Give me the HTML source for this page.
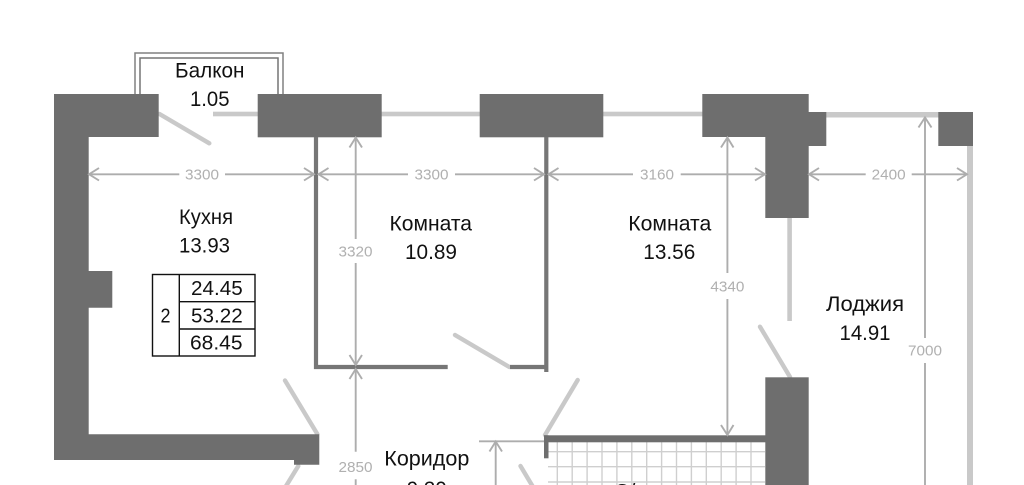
<!DOCTYPE html>
<html lang="ru">
<head>
<meta charset="utf-8">
<title>План квартиры</title>
<style>
html,body{margin:0;padding:0;background:#fff;width:1024px;height:485px;overflow:hidden}
svg{display:block;filter:blur(.25px)}
text{font-family:"Liberation Sans","DejaVu Sans",sans-serif}
.l{font-size:21px;fill:#111;text-anchor:start}
.t{font-size:20px;fill:#111}
.d{font-size:15px;fill:#b0b0b0}
.w{fill:#6e6e6e}
.lt{fill:#c9c9c9}
.door{stroke:#c9c9c9;stroke-width:4.4;fill:none;stroke-linecap:round}
.dim{stroke:#adadad;stroke-width:1.9;fill:none}
.g{stroke:#cfcfcf;stroke-width:1.4;fill:none}
</style>
</head>
<body>
<svg width="1024" height="485" viewBox="0 0 1024 485" xmlns="http://www.w3.org/2000/svg">
<rect width="1024" height="485" fill="#fff"/>

<!-- balcony -->
<path d="M135 94V53H283V94" fill="none" stroke="#808080" stroke-width="1.5"/>
<path d="M140 94V58H278V94" fill="none" stroke="#757575" stroke-width="1.5"/>

<!-- grid -->
<g class="g">
<path d="M557.3 442V485M572.2 442V485M587.1 442V485M602 442V485M616.9 442V485M631.8 442V485M646.7 442V485M661.6 442V485M676.5 442V485M691.4 442V485M706.3 442V485M721.2 442V485M736.1 442V485M751 442V485"/>
<path d="M548 451.7H765M548 466.7H765M548 482H765"/>
</g>

<!-- light windows / partitions -->
<rect class="lt" x="213" y="111.7" width="45" height="4.6"/>
<rect class="lt" x="381" y="111.7" width="99" height="4.6"/>
<rect class="lt" x="603" y="111.7" width="100" height="4.6"/>
<rect class="lt" x="826" y="112" width="113" height="5.5"/>
<rect class="lt" x="967" y="146" width="6" height="339"/>
<rect class="lt" x="787.3" y="218" width="4.6" height="103"/>

<!-- doors -->
<path class="door" d="M159.5 114L209.3 143.3"/>
<path class="door" d="M285 380.5L317.3 434"/>
<path class="door" d="M298.3 466L283 491"/>
<path class="door" d="M455 335L509.3 367"/>
<path class="door" d="M577.7 380L545 435"/>
<path class="door" d="M520.5 466L536 492"/>
<path class="door" d="M760 326.7L790 377"/>

<!-- walls -->
<path class="w" d="M54 94H158.7V137H88.7V271H112.3V307.7H88.7V434.3H319.3V464.7H294V460H54Z"/>
<rect class="w" x="257.7" y="94" width="124" height="43.3"/>
<rect class="w" x="479.7" y="94" width="123.6" height="43.3"/>
<path class="w" d="M702.3 94H808.7V112H826.3V146H808.7V218H765.3V137H702.3Z"/>
<rect class="w" x="938.3" y="112" width="34.7" height="34"/>
<rect class="w" x="765.3" y="377.3" width="43.4" height="108"/>
<rect class="w" x="544" y="435.3" width="222" height="7"/>
<rect class="w" x="544" y="435.3" width="4.5" height="23"/>
<path d="M316 137V367H447.7" fill="none" stroke="#767676" stroke-width="4.2"/>
<path d="M546.3 137V372M510 367H546.3" fill="none" stroke="#767676" stroke-width="4.2"/>

<!-- dimensions -->
<g class="dim">
<path d="M88.7 174.3H179.3M225 174.3H314"/>
<path d="M99 168L89 174.3L99 180.5M304 168L314 174.3L304 180.5"/>
<path d="M318.3 174.3H408M455 174.3H544"/>
<path d="M328.5 168L318.5 174.3L328.5 180.5M534 168L544 174.3L534 180.5"/>
<path d="M548.5 174.3H633M680.7 174.3H765"/>
<path d="M558.5 168L548.5 174.3L558.5 180.5M755 168L765 174.3L755 180.5"/>
<path d="M808.7 174.3H865.7M911.7 174.3H967"/>
<path d="M819 168L809 174.3L819 180.5M957 168L967 174.3L957 180.5"/>

<path d="M355.7 137V239M355.7 263V365"/>
<path d="M349.5 147.5L355.7 137.5L362 147.5M349.5 355L355.7 365L362 355"/>
<path d="M355.7 369V451.7M355.7 479.3V485"/>
<path d="M349.5 379L355.7 369L362 379"/>

<path d="M727.4 137V273M727.4 299V435"/>
<path d="M721 147.5L727.4 137.5L733.5 147.5M721 425L727.4 435L733.5 425"/>

<path d="M925 117V338M925 363V485"/>
<path d="M918.5 127.5L925 117.5L931.5 127.5"/>

<path d="M479 441.3H544"/>
<path d="M495.7 441.3V485"/>
<path d="M489.5 451.5L495.7 441.5L502 451.5"/>
</g>
<text class="d" x="185" y="179.3" textLength="34" lengthAdjust="spacingAndGlyphs">3300</text>
<text class="d" x="414.5" y="179.3" textLength="34" lengthAdjust="spacingAndGlyphs">3300</text>
<text class="d" x="640" y="179.3" textLength="34" lengthAdjust="spacingAndGlyphs">3160</text>
<text class="d" x="871.7" y="179.3" textLength="34" lengthAdjust="spacingAndGlyphs">2400</text>
<text class="d" x="338.5" y="256.3" textLength="34" lengthAdjust="spacingAndGlyphs">3320</text>
<text class="d" x="338.5" y="471.8" textLength="34" lengthAdjust="spacingAndGlyphs">2850</text>
<text class="d" x="710.4" y="291.3" textLength="34" lengthAdjust="spacingAndGlyphs">4340</text>
<text class="d" x="908" y="355.3" textLength="34" lengthAdjust="spacingAndGlyphs">7000</text>

<!-- room labels -->
<text class="l" x="175" y="77.3" textLength="69.5" lengthAdjust="spacingAndGlyphs">Балкон</text>
<text class="l" x="190" y="106" textLength="39.5" lengthAdjust="spacingAndGlyphs">1.05</text>
<text class="l" x="179" y="224" textLength="54" lengthAdjust="spacingAndGlyphs">Кухня</text>
<text class="l" x="179" y="252.7" textLength="51" lengthAdjust="spacingAndGlyphs">13.93</text>
<text class="l" x="389.5" y="230.7" textLength="82.5" lengthAdjust="spacingAndGlyphs">Комната</text>
<text class="l" x="405" y="259" textLength="52" lengthAdjust="spacingAndGlyphs">10.89</text>
<text class="l" x="628.3" y="230.7" textLength="83" lengthAdjust="spacingAndGlyphs">Комната</text>
<text class="l" x="643.3" y="259" textLength="52" lengthAdjust="spacingAndGlyphs">13.56</text>
<text class="l" x="826" y="311" textLength="78" lengthAdjust="spacingAndGlyphs">Лоджия</text>
<text class="l" x="839.5" y="340" textLength="51" lengthAdjust="spacingAndGlyphs">14.91</text>
<text class="l" x="384.3" y="465.7" textLength="85" lengthAdjust="spacingAndGlyphs">Коридор</text>
<text class="l" x="406.7" y="496" textLength="40" lengthAdjust="spacingAndGlyphs">9.30</text>
<text class="l" x="614" y="498.5" textLength="32" lengthAdjust="spacingAndGlyphs">С/у</text>

<!-- table -->
<g fill="#fff" stroke="#111" stroke-width="1.4">
<rect x="152.5" y="274.5" width="102.5" height="81.5"/>
<path d="M179.3 274.5V356M179.3 301.7H255M179.3 329H255" fill="none"/>
</g>
<text class="t" x="191" y="295" textLength="51.7" lengthAdjust="spacingAndGlyphs">24.45</text>
<text class="t" x="191" y="322.3" textLength="51.7" lengthAdjust="spacingAndGlyphs">53.22</text>
<text class="t" x="190" y="349.3" textLength="52.5" lengthAdjust="spacingAndGlyphs">68.45</text>
<text class="t" x="160.5" y="322.3" textLength="10" lengthAdjust="spacingAndGlyphs">2</text>
</svg>
</body>
</html>
